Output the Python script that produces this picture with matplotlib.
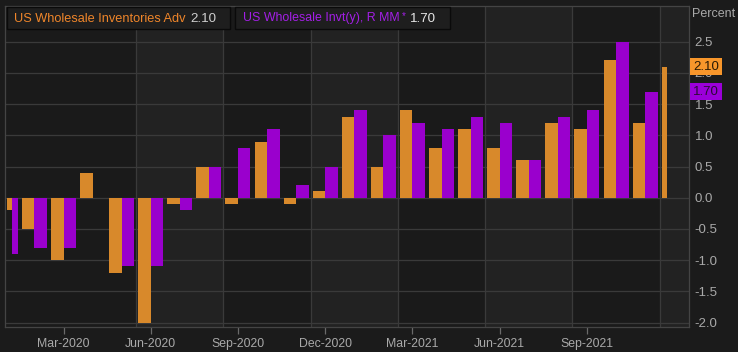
import numpy as np
import matplotlib.pyplot as plt
from matplotlib.patches import Rectangle
import matplotlib.transforms as mtransforms

plt.rcParams['font.family'] = ['Liberation Sans', 'DejaVu Sans']

# Monthly data, Jan-2020 onward
adv_values = [-0.2, -0.5, -1.0, 0.4, -1.2, -2.0, -0.1, 0.5, -0.1, 0.9, -0.1, 0.1,
              1.3, 0.5, 1.4, 0.8, 1.1, 0.8, 0.6, 1.2, 1.1, 2.2, 1.2, 2.1]
rev_values = [-0.9, -0.8, -0.8, 0.0, -1.1, -1.1, -0.2, 0.5, 0.8, 1.1, 0.2, 0.5,
              1.4, 1.0, 1.2, 1.1, 1.3, 1.2, 0.6, 1.3, 1.4, 2.5, 1.7]
tick_months = [2, 5, 8, 11, 14, 17, 20]
tick_labels = ['Mar-2020', 'Jun-2020', 'Sep-2020', 'Dec-2020',
               'Mar-2021', 'Jun-2021', 'Sep-2021']
adv_name = 'US Wholesale Inventories Adv'
rev_name = 'US Wholesale Invt(y), R MM'
adv_last = '2.10'
rev_last = '1.70'

ORANGE = '#d8892b'
PURPLE = '#9a00cd'
BG = '#1b1b1b'
BAND = '#222222'
GRID = '#3a3a3a'
TXT = '#a9a9a9'

fig = plt.figure(figsize=(7.38, 3.52), dpi=100)
fig.patch.set_facecolor(BG)
ax = fig.add_axes([5 / 738, 25 / 352, 684 / 738, 321 / 352])
ax.set_facecolor('#1a1a1a')

n_adv = len(adv_values)
n_rev = len(rev_values)
w = 0.43

# bar left edges / widths (first and last periods are partial, so bars are squeezed)
adv_left = np.arange(n_adv) - w
adv_w = np.full(n_adv, w)
rev_left = np.arange(n_rev, dtype=float)
rev_w = np.full(n_rev, w)
adv_left[0], adv_w[0] = 0.06, 0.17
rev_left[0], rev_w[0] = 0.23, 0.21
adv_w[-1] = 0.18

ax.bar(adv_left, adv_values, width=adv_w, align='edge', color=ORANGE, zorder=3)
ax.bar(rev_left, rev_values, width=rev_w, align='edge', color=PURPLE, zorder=3)

xmin, xmax = -0.012, 23.51
ax.set_xlim(xmin, xmax)
ax.set_ylim(-2.07, 3.07)

# quarter bands and vertical grid lines
bounds = [4.5, 7.5, 10.5, 13.5, 16.5, 19.5, 22.5]
for k, b in enumerate(bounds):
    ax.axvline(b, color=GRID, lw=0.9, zorder=1)
    if k % 2 == 0:
        right = bounds[k + 1] if k + 1 < len(bounds) else xmax
        ax.axvspan(b, right, color=BAND, zorder=0, lw=0)

ax.set_yticks(np.arange(-2.0, 2.51, 0.5))
ax.yaxis.tick_right()
ax.yaxis.grid(True, color=GRID, lw=0.9, zorder=1)
ax.set_yticklabels([f'{v:.1f}' for v in np.arange(-2.0, 2.51, 0.5)])
ax.tick_params(axis='y', length=0, pad=4, labelsize=9.5, labelcolor=TXT)

ax.set_xticks(tick_months)
ax.set_xticklabels(tick_labels)
ax.tick_params(axis='x', length=5, width=0.9, color='#6a6a6a', pad=3,
               labelsize=8.8, labelcolor=TXT)
for s in ax.spines.values():
    s.set_color('#444444')
    s.set_linewidth(0.9)

ax.text(1.004, 1.0 - 8 / 321, 'Percent', transform=ax.transAxes,
        color=TXT, fontsize=9, ha='left', va='center')

# last-value tags on the right axis
trans = mtransforms.blended_transform_factory(ax.transAxes, ax.transData)
ax.text(1.006, adv_values[-1], adv_last, transform=trans, fontsize=9.5,
        color='#2a1a05', ha='left', va='center', clip_on=False, zorder=5,
        bbox=dict(boxstyle='square,pad=0.22', fc='#f7962b', ec='none'))
ax.text(1.006, rev_values[-1], rev_last, transform=trans, fontsize=9.5,
        color='#2a0a35', ha='left', va='center', clip_on=False, zorder=5,
        bbox=dict(boxstyle='square,pad=0.22', fc='#9b00d9', ec='none'))

# legend boxes at the top
H = 352.0
W = 738.0
for x0, x1 in [(7, 230), (235, 450)]:
    fig.add_artist(Rectangle((x0 / W, 1 - 29 / H), (x1 - x0) / W, 22 / H,
                             transform=fig.transFigure, fc='#1e1e1e',
                             ec='#0a0a0a', lw=1.0, zorder=10))
ty = 1 - 18.5 / H
fig.text(14 / W, ty, adv_name, color='#f0862a', fontsize=9.2, va='center', zorder=11)
fig.text(190 / W, ty, adv_last, color='#cfcfcf', fontsize=9.6, va='center', zorder=11)
fig.text(243 / W, ty, rev_name, color='#a31ee6', fontsize=8.9, va='center', zorder=11)
fig.text(402 / W, ty + 2 / H, '*', color='#a31ee6', fontsize=7, va='center', zorder=11)
fig.text(410 / W, ty, rev_last, color='#e6e6e6', fontsize=9.6, va='center', zorder=11)

fig.savefig('out.png', dpi=100, facecolor=BG)
